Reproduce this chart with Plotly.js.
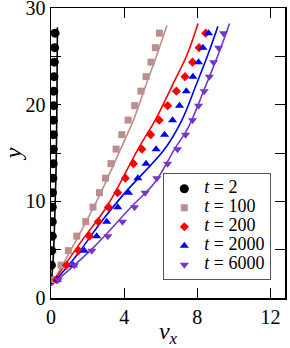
<!DOCTYPE html>
<html>
<head>
<meta charset="utf-8">
<script src="https://cdn.plot.ly/plotly-3.0.1.min.js"></script>
<style>html,body{margin:0;padding:0;background:#fff;}#chart{width:290px;height:348px;}</style>
</head>
<body>
<div id="chart"></div>
<script>
// Shared y positions of the sampled points
const yPts = [1.9,3.4,4.9,6.4,7.9,9.4,10.9,12.4,13.9,15.4,16.9,18.4,19.9,21.4,22.9,24.4,25.9,27.4];

// Marker series (v_x values)
const x_t2    = [0.0,0.02,0.04,0.07,0.07,0.07,0.08,0.10,0.12,0.12,0.13,0.13,0.14,0.15,0.16,0.18,0.20,0.22];
const x_t100  = [0.2,0.55,0.95,1.41,1.90,2.30,2.65,2.98,3.28,3.56,3.87,4.22,4.58,4.92,5.20,5.47,5.71,5.93];
const x_t200  = [0.3,0.85,1.50,2.10,2.59,3.14,3.65,4.07,4.51,4.97,5.45,5.92,6.38,6.86,7.33,7.74,8.10,8.46];
const x_t2000 = [0.35,1.22,1.82,2.50,3.05,3.65,4.24,4.75,5.20,5.75,6.21,6.65,7.03,7.40,7.76,8.07,8.31,8.62];
const x_t6000 = [0.4,1.28,2.23,3.11,3.91,4.57,5.15,5.79,6.38,6.92,7.36,7.74,8.07,8.38,8.66,8.89,9.17,9.44];

// Curves
const lineY_t2 = [1.3,4,8,12,16,22,28];
const lineX_t2 = [0,0.12,0.2,0.26,0.3,0.33,0.35];
const lineY_t100 = [1.3,5.7,10.4,15.3,18.4,21.8,25.2,28.2];
const lineX_t100 = [0,1.3,2.6,3.78,4.51,5.15,5.8,6.34];
const lineY_t200 = [1.3,5.7,9.6,15.5,18.4,21.85,25.3,28.4];
const lineX_t200 = [0,1.6,3.1,4.79,5.70,6.6,7.47,8.04];
const lineY_t2000 = [1.3,4.4,7.96,10.9,15.5,18.4,21.85,25.0,28.1];
const lineX_t2000 = [0,1.4,2.78,4.05,6.25,7.16,7.9,8.55,9.13];
const lineY_t6000 = [1.3,5.0,9.44,12.0,15.5,17.6,21.85,25.3,28.4];
const lineX_t6000 = [0,2.2,4.4,5.7,6.79,7.5,8.44,9.17,9.77];

const labels = ['2','100','200','2000','6000'];
const colors = ['#000000','#bc8f8f','#ff0000','#0000ff','#7436c9'];
const symbols = ['circle','square','diamond','triangle-up','triangle-down'];
const sizes = [9,7,7,8,8];

const FONT = 'Liberation Serif';
const markerX = [x_t2,x_t100,x_t200,x_t2000,x_t6000];
const lineXs = [lineX_t2,lineX_t100,lineX_t200,lineX_t2000,lineX_t6000];
const lineYs = [lineY_t2,lineY_t100,lineY_t200,lineY_t2000,lineY_t6000];

const traces = [];
for (let i = 0; i < 5; i++) {
  traces.push({
    x: lineXs[i], y: lineYs[i], mode: 'lines', type: 'scatter',
    line: {color: colors[i], width: 1.6, shape: 'spline'},
    showlegend: false, hoverinfo: 'skip'
  });
}
for (let i = 0; i < 5; i++) {
  traces.push({
    x: markerX[i], y: yPts, mode: 'markers', type: 'scatter',
    name: '<span style="font-size:18px"><i>t</i> = ' + labels[i] + '</span>',
    marker: {color: colors[i], symbol: symbols[i], size: sizes[i], line: {width: 0}}
  });
}

const axisCommon = {
  ticks: 'inside', ticklen: 10, tickwidth: 1, tickcolor: '#000',
  mirror: 'allticks', showline: true, linewidth: 1.5, linecolor: '#000',
  showgrid: false, zeroline: false, ticklabeloverflow: 'allow',
  tickfont: {family: FONT, size: 20, color: '#000'}
};

const layout = {
  width: 290, height: 348,
  margin: {l: 51, r: 5, t: 8, b: 50},
  paper_bgcolor: '#fff', plot_bgcolor: '#fff',
  font: {family: FONT, color: '#000'},
  xaxis: Object.assign({}, axisCommon, {
    range: [0, 12.8], tick0: 0, dtick: 4,
    title: {text: '<i>v</i><sub><i>x</i></sub>', font: {family: FONT, size: 24, color: '#000'}, standoff: 4}
  }),
  yaxis: Object.assign({}, axisCommon, {
    range: [0, 30], tick0: 0, dtick: 10,
    minor: {dtick: 5, ticks: 'inside', ticklen: 10, tickwidth: 1, tickcolor: '#000'},
    title: {text: '<i>y</i>', font: {family: FONT, size: 24, color: '#000'}, standoff: 6}
  }),
  legend: {
    x: 0.48, y: 0.43, xanchor: 'left', yanchor: 'top',
    bordercolor: '#555', borderwidth: 1, bgcolor: '#fff',
    font: {family: FONT, size: 11, color: '#000'},
    tracegroupgap: 0, itemwidth: 30
  },
  showlegend: true
};

Plotly.newPlot('chart', traces, layout, {displayModeBar: false, staticPlot: true});
</script>
</body>
</html>
